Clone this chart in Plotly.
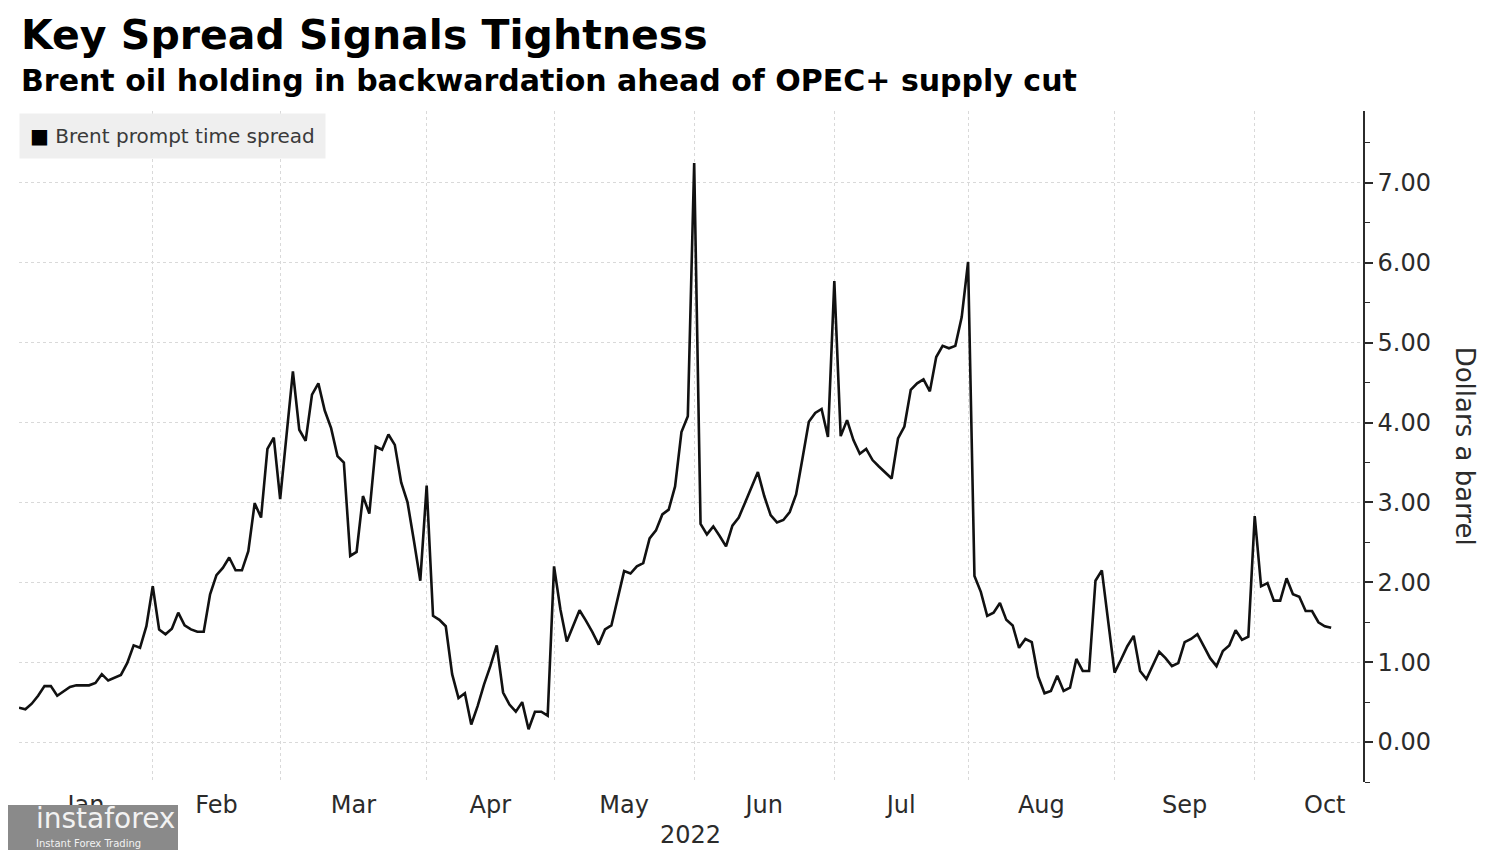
import pandas as pd
import plotly.graph_objects as go

# ---- data (Brent prompt time spread, $/bbl, one value per trading day) ----
dec_jan = [0.43, 0.41, 0.48, 0.58, 0.70, 0.70, 0.58, 0.64, 0.69, 0.71, 0.71,
           0.71, 0.74, 0.85, 0.77, 0.80, 0.84, 0.99, 1.21, 1.18, 1.45, 1.95]
feb = [1.41, 1.35, 1.42, 1.62, 1.46, 1.41, 1.38, 1.38, 1.85, 2.09, 2.18, 2.31,
       2.15, 2.15, 2.39, 2.99, 2.81, 3.67, 3.81, 3.04]
mar = [3.85, 4.64, 3.91, 3.77, 4.35, 4.49, 4.15, 3.93, 3.58, 3.50, 2.33, 2.38,
       3.08, 2.86, 3.70, 3.66, 3.85, 3.72, 3.25, 3.00, 2.52, 2.02, 3.21]
apr = [1.58, 1.53, 1.45, 0.85, 0.55, 0.61, 0.22, 0.45, 0.72, 0.95, 1.21, 0.62,
       0.47, 0.38, 0.50, 0.16, 0.38, 0.38, 0.33, 2.20]
may = [1.66, 1.26, 1.46, 1.65, 1.52, 1.38, 1.22, 1.41, 1.46, 1.79, 2.14, 2.11,
       2.20, 2.24, 2.55, 2.65, 2.85, 2.91, 3.20, 3.88, 4.08, 7.25]
jun = [2.73, 2.60, 2.70, 2.58, 2.45, 2.71, 2.81, 3.00, 3.19, 3.38, 3.08, 2.84,
       2.75, 2.78, 2.88, 3.10, 3.55, 4.01, 4.12, 4.17, 3.82, 5.77]
jul = [3.83, 4.03, 3.78, 3.61, 3.67, 3.53, 3.45, 3.38, 3.30, 3.80, 3.95, 4.41,
       4.49, 4.54, 4.39, 4.82, 4.96, 4.93, 4.96, 5.32, 6.01]
aug = [2.08, 1.88, 1.58, 1.62, 1.74, 1.53, 1.46, 1.18, 1.29, 1.25, 0.82, 0.61,
       0.64, 0.83, 0.64, 0.68, 1.04, 0.89, 0.89, 2.02, 2.15, 1.50, 0.87]
sep = [1.03, 1.20, 1.33, 0.89, 0.79, 0.95, 1.13, 1.05, 0.95, 0.99, 1.25, 1.29,
       1.35, 1.20, 1.05, 0.95, 1.14, 1.21, 1.40, 1.28, 1.32, 2.83]
octo = [1.95, 1.99, 1.77, 1.77, 2.05, 1.85, 1.82, 1.64, 1.64, 1.50, 1.45, 1.43]

spread = dec_jan + feb + mar + apr + may + jun + jul + aug + sep + octo

first_day = "2021-12-31"
last_day = "2022-10-18"
holidays = ["2022-04-15"]  # Good Friday, ICE closed

month_ends = ["2021-12-31", "2022-01-31", "2022-02-28", "2022-03-31", "2022-04-29",
              "2022-05-31", "2022-06-30", "2022-07-29", "2022-08-31", "2022-09-30"]
month_labels = ["Jan", "Feb", "Mar", "Apr", "May", "Jun", "Jul", "Aug", "Sep", "Oct"]
y_ticks = [0, 1, 2, 3, 4, 5, 6, 7]

# trading-day calendar
dates = [d for d in pd.bdate_range(first_day, last_day) if d.strftime("%Y-%m-%d") not in holidays]
assert len(dates) == len(spread), (len(dates), len(spread))
date_str = [d.strftime("%Y-%m-%d") for d in dates]

# label positions: middle of each month span (in trading days)
label_pos = []
idx_ends = [date_str.index(m) for m in month_ends]
for a, b in zip(idx_ends[:-1], idx_ends[1:]):
    k = (a + b) / 2
    base = dates[int(k)]
    if k != int(k):
        base = base + pd.Timedelta(hours=12)
    label_pos.append(base)
label_pos.append(pd.Timestamp("2022-10-17"))

INK = "#2b2b2b"
GRID = "#d9d9d9"
FONT = "DejaVu Sans"

fig = go.Figure()
fig.add_trace(go.Scatter(
    x=dates, y=spread, mode="lines",
    line=dict(color="#111111", width=2.6),
    name="Brent prompt time spread", showlegend=False,
))

# page body has an 8px margin: figure is 1492x842 so it fills the 1500x850 window
fig.update_layout(
    width=1492, height=842,
    margin=dict(l=11, r=137, t=103, b=68),
    paper_bgcolor="white", plot_bgcolor="white",
    font=dict(family=FONT, color=INK, size=24),
    xaxis=dict(
        type="date",
        range=["2021-12-31", "2022-10-25"],
        rangebreaks=[dict(bounds=["sat", "mon"]), dict(values=holidays)],
        tickmode="array", tickvals=label_pos, ticktext=month_labels,
        ticks="", showgrid=False, showline=False, zeroline=False,
        tickfont=dict(family=FONT, size=24, color=INK),
        ticklabelstandoff=6,
        minor=dict(tickmode="array", tickvals=month_ends, showgrid=True,
                   gridcolor=GRID, griddash="dot", gridwidth=1.2, ticks=""),
    ),
    yaxis=dict(
        side="right", range=[-0.5, 7.9],
        tickmode="array", tickvals=y_ticks, tickformat=".2f",
        ticks="outside", ticklen=8, tickwidth=1.5, tickcolor=INK,
        showline=True, linecolor=INK, linewidth=1.5,
        showgrid=True, gridcolor=GRID, griddash="dot", gridwidth=1.2,
        zeroline=False,
        tickfont=dict(family=FONT, size=24, color=INK),
        minor=dict(dtick=0.5, tick0=0, ticks="outside", ticklen=5,
                   tickwidth=1.2, tickcolor=INK, showgrid=False),
    ),
)

annotations = [
    dict(text="<b>Key Spread Signals Tightness</b>", x=0, y=1.113, xref="paper", yref="paper",
         xanchor="left", yanchor="middle", showarrow=False,
         font=dict(family=FONT, size=41, color="#000000")),
    dict(text="<b>Brent oil holding in backwardation ahead of OPEC+ supply cut</b>",
         x=0, y=1.046, xref="paper", yref="paper", xanchor="left", yanchor="middle",
         showarrow=False, font=dict(family=FONT, size=30, color="#000000")),
    dict(text="<span style='color:#000000'>■</span> Brent prompt time spread",
         x=0, y=0.997, xref="paper", yref="paper", xanchor="left", yanchor="top",
         showarrow=False, bgcolor="#efefef", borderpad=10,
         font=dict(family=FONT, size=20, color="#3a3a3a")),
    dict(text="Dollars a barrel", x=1.0765, y=0.5, xref="paper", yref="paper",
         xanchor="center", yanchor="middle", textangle=90, showarrow=False,
         font=dict(family=FONT, size=26, color=INK)),
    dict(text="2022", x=0.4993, y=-0.079, xref="paper", yref="paper",
         xanchor="center", yanchor="middle", showarrow=False,
         font=dict(family=FONT, size=24, color=INK)),
    # watermark
    dict(text="instaforex", x=0.011, y=-0.055, xref="paper", yref="paper",
         xanchor="left", yanchor="middle", showarrow=False,
         font=dict(family=FONT, size=28, color="#f2f2f2")),
    dict(text="Instant Forex Trading", x=0.011, y=-0.091, xref="paper", yref="paper",
         xanchor="left", yanchor="middle", showarrow=False,
         font=dict(family=FONT, size=10, color="#f2f2f2")),
]
fig.update_layout(annotations=annotations)

fig.add_shape(type="rect", xref="paper", yref="paper",
              x0=-0.0141, x1=0.1183, y0=-0.1013, y1=-0.0343,
              fillcolor="#8a8a8a", line=dict(width=0), layer="above")

fig.write_html("out.html")
